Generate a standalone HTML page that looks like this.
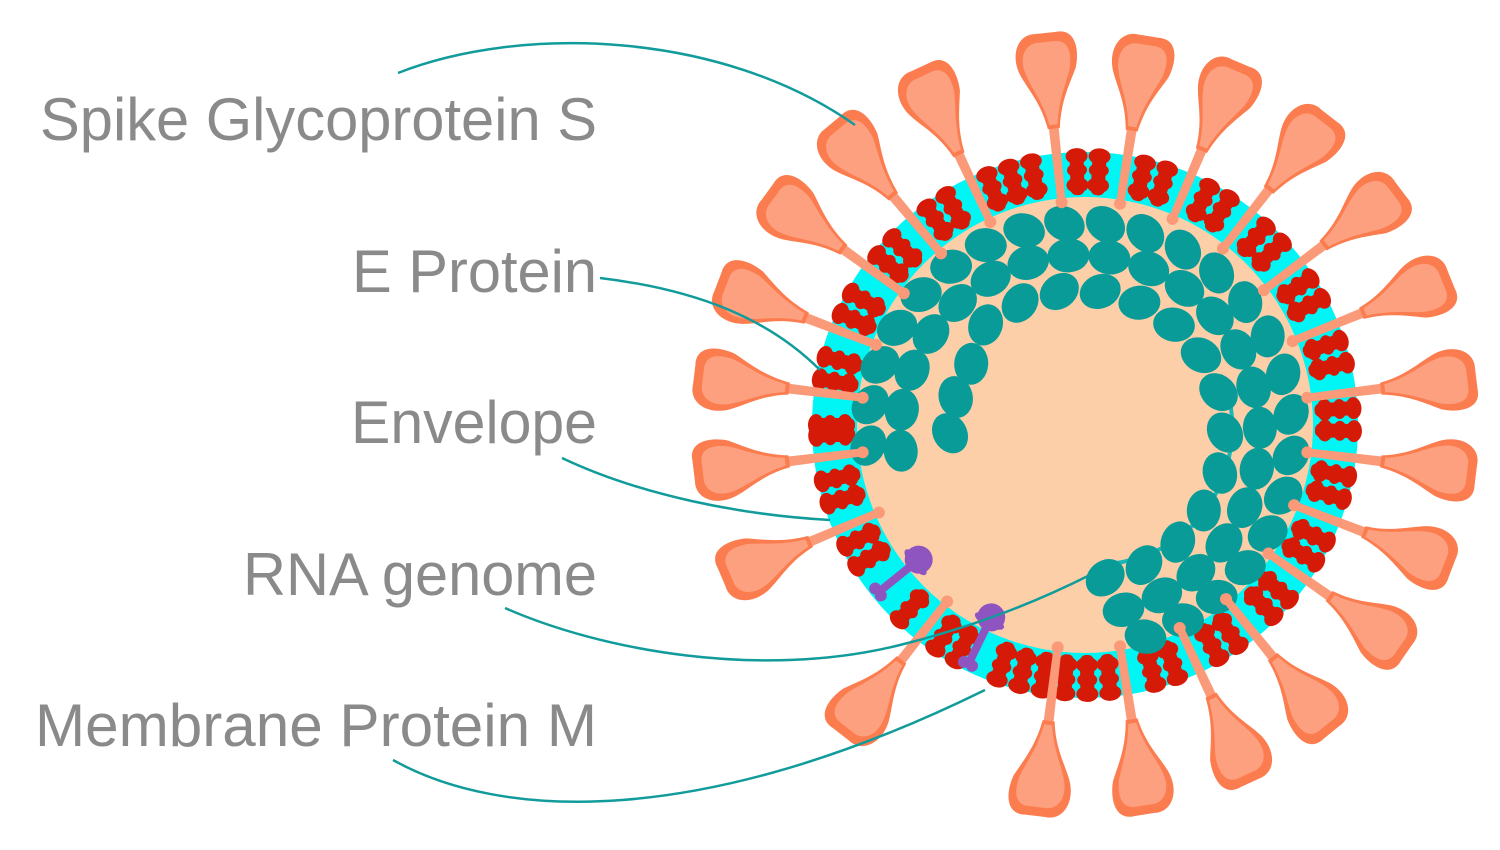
<!DOCTYPE html>
<html><head><meta charset="utf-8"><style>
html,body{margin:0;padding:0;background:#fff;width:1500px;height:850px;overflow:hidden}
svg{display:block}
text{font-family:"Liberation Sans",sans-serif;fill:#8a8a8a;font-size:60px}
</style></head><body>
<svg id="s" width="1500" height="850" viewBox="0 0 1500 850" xmlns="http://www.w3.org/2000/svg">
<defs>
<g id="spike">
 <path d="M222,-4 L305,-5 L305,5 L222,4 Z" fill="#fb9a78"/>
 <circle cx="224" cy="0" r="6" fill="#fb9a78"/>
 <path d="M298,-6 C325,-10 340,-22 355,-28 C376,-36 396,-26 394,-8 L394,12 C396,32 374,34 356,28 C340,20 325,10 298,6 Z" fill="#fb7d4f"/>
 <path d="M302,-4 C326,-8 340,-18 354,-22 C372,-28 386,-20 385,-6 L385,8 C386,24 372,26 356,22 C340,16 326,8 302,4 Z" fill="#fda07f"/>
</g>
<g id="red" fill="#d61a08">
 <rect x="230" y="-7" width="46" height="14" rx="6"/>
 <ellipse cx="240" cy="0" rx="8" ry="11"/>
 <ellipse cx="255" cy="0" rx="7" ry="10"/>
 <ellipse cx="269" cy="0" rx="8" ry="11"/>
</g>
<g id="mprot" fill="#8e55c0">
 <rect x="218" y="-4" width="48" height="8"/>
 <circle cx="266" cy="-4" r="6"/><circle cx="266" cy="5" r="6"/>
 <circle cx="214" cy="0" r="14"/>
 <ellipse cx="218" cy="0" rx="6" ry="16"/>
</g>
</defs>
<text x="40" y="140" textLength="557" lengthAdjust="spacingAndGlyphs">Spike Glycoprotein S</text>
<text x="352" y="292" textLength="245" lengthAdjust="spacingAndGlyphs">E Protein</text>
<text x="351" y="443" textLength="246" lengthAdjust="spacingAndGlyphs">Envelope</text>
<text x="243" y="595" textLength="354" lengthAdjust="spacingAndGlyphs">RNA genome</text>
<text x="35" y="746" textLength="562" lengthAdjust="spacingAndGlyphs">Membrane Protein M</text>
<g id="virus" transform="translate(1085,425)">
 <circle r="250" fill="none" stroke="#00f5f5" stroke-width="46"/>
 <circle r="228" fill="#fccfa8"/>
 <g id="reds"></g>
 <g id="caps"></g>
 <g id="spikes"></g>
</g>
<g fill="none" stroke="#129b9b" stroke-width="2.5">
 <path d="M398,73 C520,25 720,30 855,125"/>
 <path d="M600,278 C700,290 770,320 820,370"/>
 <path d="M562,458 C640,495 740,515 830,520"/>
 <path d="M505,608 C600,650 760,680 900,645 C980,625 1040,600 1090,575"/>
 <path d="M393,760 C500,820 700,830 985,690"/>
</g>
</svg>
<script>
var NS="http://www.w3.org/2000/svg";
function el(t,a,p){var e=document.createElementNS(NS,t);for(var k in a)e.setAttribute(k,a[k]);p.appendChild(e);return e;}
var spikes=[-130,-115,-96,-81,-67,-52,-37,-22,-7,7,21,35,51,65,81,97,128,157,173,-173,-159,-144];
var sg=document.getElementById('spikes'),rg=document.getElementById('reds'),cg=document.getElementById('caps');
spikes.forEach(function(a){el('use',{href:'#spike',transform:'rotate('+a+')'},sg);});
for(var a=-180;a<180;a+=4.9){
  var skip=false;spikes.forEach(function(s){var d=Math.abs(((a-s+540)%360)-180);if(d<2.3)skip=true;});
  var m=false;[141,115].forEach(function(s){if(Math.abs(a-s)<3)m=true;});
  if(!skip&&!m)el('use',{href:'#red',transform:'rotate('+a+')'},rg);
}
[141,116].forEach(function(a){el('use',{href:'#mprot',transform:'rotate('+a+')'},rg);});
var cc=el('g',{transform:'translate(-5,10)'},cg);
el('path',{d:'M20,130 C150,120 170,-10 140,-60',fill:'none',stroke:'#17b8b8','stroke-width':4},cc);
var rows=[145,180,212];
rows.forEach(function(r,i){
  var start=80-i*4, end=-190+i*2;
  var step=41/r*180/Math.PI;
  for(var a=start;a>=end;a-=step){
    var rr=r+(a<-140?(i==0?-15:0):0);
    var x=rr*Math.cos(a*Math.PI/180),y=rr*Math.sin(a*Math.PI/180);
    el('ellipse',{cx:x.toFixed(1),cy:y.toFixed(1),rx:21,ry:17,fill:'#089b98',transform:'rotate('+(a+60+i*30)+' '+x.toFixed(1)+' '+y.toFixed(1)+')'},cc);
  }
});
</script>
</body></html>
